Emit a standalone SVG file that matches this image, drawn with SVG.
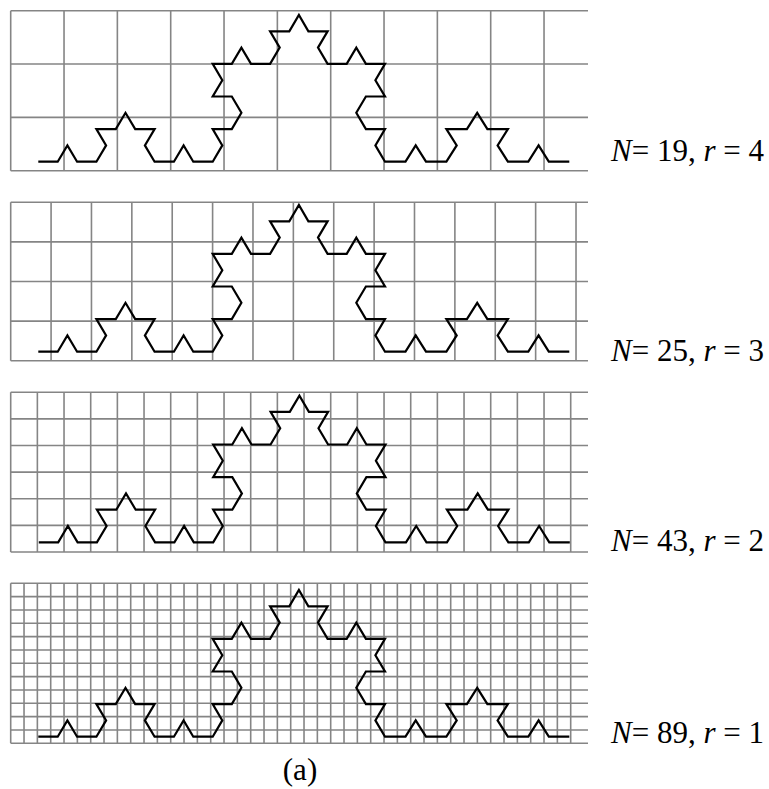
<svg xmlns="http://www.w3.org/2000/svg" xmlns:xlink="http://www.w3.org/1999/xlink" width="769" height="789" viewBox="0 0 769 789">
<style>
.grid{fill:none;stroke:#858585;stroke-width:1.6}
.koch{fill:none;stroke:#000;stroke-width:2.2;stroke-linejoin:miter}
.lbl{font-family:"Liberation Serif","Times New Roman",serif;font-size:31px;fill:#000}
.it{font-style:italic}
</style>
<defs>
<polyline id="koch" class="koch" points="38.3,0 57.7,0 67.4,-16.3 77.1,0 96.4,0 106.1,-16.3 96.4,-32.6 115.8,-32.6 125.5,-48.9 135.2,-32.6 154.6,-32.6 144.9,-16.3 154.6,0 173.9,0 183.6,-16.3 193.3,0 212.7,0 222.3,-16.3 212.7,-32.6 231.8,-32.6 241.4,-48.9 231.8,-65.2 212.7,-65.2 222.3,-81.5 212.7,-97.8 231.8,-97.8 241.4,-114.1 251.0,-97.8 270.1,-97.8 279.7,-114.1 270.1,-130.4 289.3,-130.4 298.9,-146.7 308.4,-130.4 327.6,-130.4 318.0,-114.1 327.6,-97.8 346.7,-97.8 356.3,-114.1 365.9,-97.8 385.0,-97.8 375.4,-81.5 385.0,-65.2 365.9,-65.2 356.3,-48.9 365.9,-32.6 385.0,-32.6 375.4,-16.3 385.0,0 405.5,0 415.7,-16.3 426.0,0 446.4,0 456.7,-16.3 446.4,-32.6 466.9,-32.6 477.2,-48.9 487.4,-32.6 507.9,-32.6 497.6,-16.3 507.9,0 528.3,0 538.6,-16.3 548.8,0 569.3,0"/>
</defs>
<rect width="769" height="789" fill="#fff"/>
<g id="panel-r4">
<path class="grid" d="M10.7 10.7v160m53.333 -160v160m53.333 -160v160m53.333 -160v160m53.333 -160v160m53.333 -160v160m53.333 -160v160m53.333 -160v160m53.333 -160v160m53.333 -160v160m53.333 -160v160M10.7 10.7h577.3m-577.3 53.333h577.3m-577.3 53.333h577.3m-577.3 53.333h577.3"/>
<use xlink:href="#koch" href="#koch" transform="translate(0,161.7)"/>
<text class="lbl" x="611" y="161"><tspan class="it">N</tspan>= 19, <tspan class="it">r</tspan> = 4</text>
</g>
<g id="panel-r3">
<path class="grid" d="M10.7 202.3v158.4m40.38 -158.4v158.4m40.38 -158.4v158.4m40.38 -158.4v158.4m40.38 -158.4v158.4m40.38 -158.4v158.4m40.38 -158.4v158.4m40.38 -158.4v158.4m40.38 -158.4v158.4m40.38 -158.4v158.4m40.38 -158.4v158.4m40.38 -158.4v158.4m40.38 -158.4v158.4m40.38 -158.4v158.4m40.38 -158.4v158.4M10.7 202.3h577.3m-577.3 39.6h577.3m-577.3 39.6h577.3m-577.3 39.6h577.3m-577.3 39.6h577.3"/>
<use xlink:href="#koch" href="#koch" transform="translate(0,351.7)"/>
<text class="lbl" x="611" y="361"><tspan class="it">N</tspan>= 25, <tspan class="it">r</tspan> = 3</text>
</g>
<g id="panel-r2">
<path class="grid" d="M10.7 392.3v159.7m26.667 -159.7v159.7m26.667 -159.7v159.7m26.667 -159.7v159.7m26.667 -159.7v159.7m26.667 -159.7v159.7m26.667 -159.7v159.7m26.667 -159.7v159.7m26.667 -159.7v159.7m26.667 -159.7v159.7m26.667 -159.7v159.7m26.667 -159.7v159.7m26.667 -159.7v159.7m26.667 -159.7v159.7m26.667 -159.7v159.7m26.667 -159.7v159.7m26.667 -159.7v159.7m26.667 -159.7v159.7m26.667 -159.7v159.7m26.667 -159.7v159.7m26.667 -159.7v159.7m26.667 -159.7v159.7M10.7 392.3h577.3m-577.3 26.617h577.3m-577.3 26.617h577.3m-577.3 26.617h577.3m-577.3 26.617h577.3m-577.3 26.617h577.3m-577.3 26.617h577.3"/>
<use xlink:href="#koch" href="#koch" transform="translate(0.5,542.3)"/>
<text class="lbl" x="611" y="551"><tspan class="it">N</tspan>= 43, <tspan class="it">r</tspan> = 2</text>
</g>
<g id="panel-r1">
<path class="grid" d="M10.7 583.3v160m13.333 -160v160m13.333 -160v160m13.333 -160v160m13.333 -160v160m13.333 -160v160m13.333 -160v160m13.333 -160v160m13.333 -160v160m13.333 -160v160m13.333 -160v160m13.333 -160v160m13.333 -160v160m13.333 -160v160m13.333 -160v160m13.333 -160v160m13.333 -160v160m13.333 -160v160m13.333 -160v160m13.333 -160v160m13.333 -160v160m13.333 -160v160m13.333 -160v160m13.333 -160v160m13.333 -160v160m13.333 -160v160m13.333 -160v160m13.333 -160v160m13.333 -160v160m13.333 -160v160m13.333 -160v160m13.333 -160v160m13.333 -160v160m13.333 -160v160m13.333 -160v160m13.333 -160v160m13.333 -160v160m13.333 -160v160m13.333 -160v160m13.333 -160v160m13.333 -160v160m13.333 -160v160m13.333 -160v160M10.7 583.3h577.3m-577.3 13.333h577.3m-577.3 13.333h577.3m-577.3 13.333h577.3m-577.3 13.333h577.3m-577.3 13.333h577.3m-577.3 13.333h577.3m-577.3 13.333h577.3m-577.3 13.333h577.3m-577.3 13.333h577.3m-577.3 13.333h577.3m-577.3 13.333h577.3m-577.3 13.333h577.3"/>
<use xlink:href="#koch" href="#koch" transform="translate(0,736.7)"/>
<text class="lbl" x="611" y="743"><tspan class="it">N</tspan>= 89, <tspan class="it">r</tspan> = 1</text>
</g>
<text id="caption" class="lbl" x="300" y="780" text-anchor="middle">(a)</text>
</svg>
